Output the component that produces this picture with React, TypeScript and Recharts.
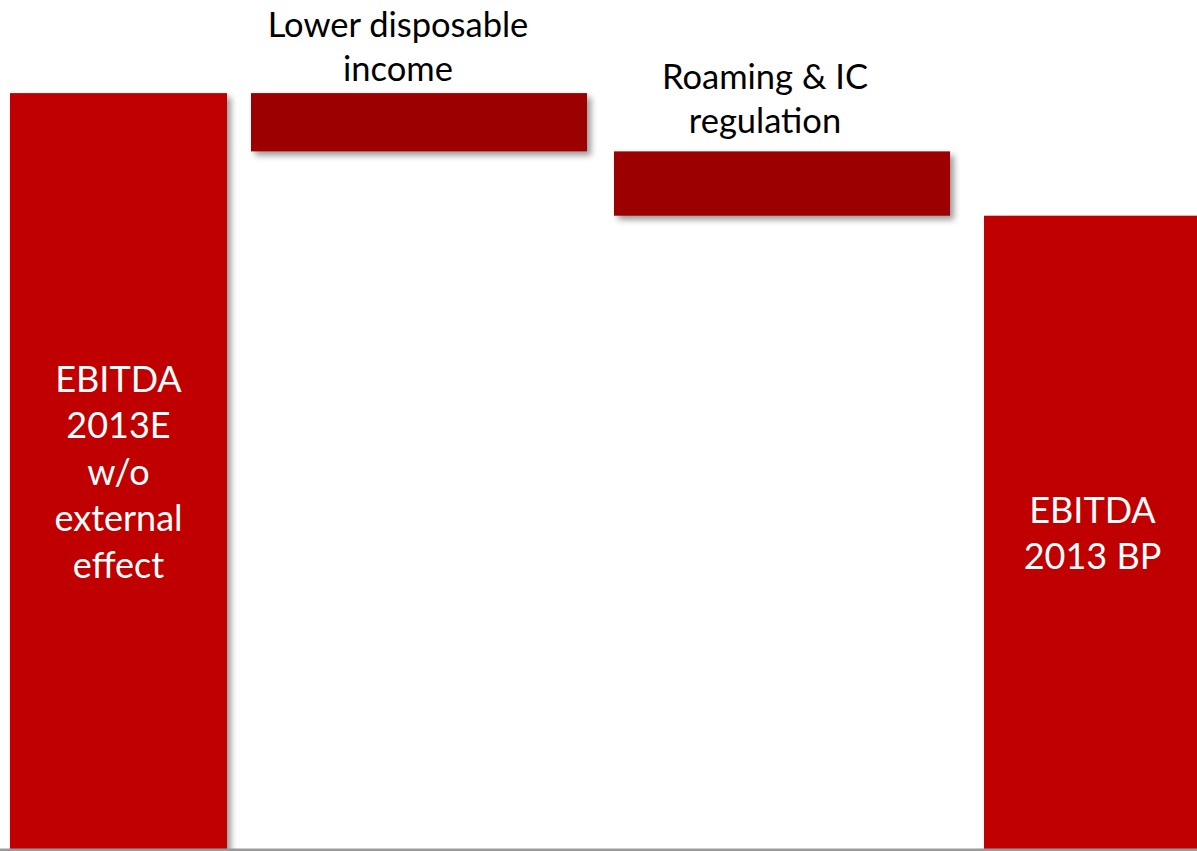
import { BarChart, Bar, XAxis, YAxis, Cell, LabelList, ReferenceLine } from "recharts";

// waterfall steps
const steps = [
  "EBITDA 2013E w/o external effect",
  "Lower disposable income",
  "Roaming & IC regulation",
  "EBITDA 2013 BP",
];
const stepLines = [
  ["EBITDA", "2013E", "w/o", "external", "effect"],
  ["Lower disposable", "income"],
  ["Roaming & IC", "regulation"],
  ["EBITDA", "2013 BP"],
];
const startValue = 100;
const effects = [-7.7, -8.5];
const endValue = 83.8;

// styling per step
const barWidths = [217, 336, 336, 217];
const barShifts = [7.5, -20, 15, -2.5];
const labelShifts = [0, -21, -17, 0];
const labelGaps = [0, 12, 18, 0];
const totalColor = "#C00000";
const effectColor = "#9C0000";

let running = startValue;
const chartData = steps.map((name, i) => {
  if (i === 0) return { name, range: [0, startValue], total: true };
  if (i === steps.length - 1) return { name, range: [0, endValue], total: true };
  const high = running;
  running = running + effects[i - 1];
  return { name, range: [running, high], total: false };
});

const WaterfallBar = (props: any) => {
  const { x, y, width, height, index, fill } = props;
  const w = barWidths[index];
  const cx = x + width / 2 + barShifts[index];
  return (
    <rect
      x={cx - w / 2}
      y={y}
      width={w}
      height={height}
      fill={fill}
      filter="url(#barShadow)"
    />
  );
};

const StepLabel = (props: any) => {
  const { x, y, width, height, index } = props;
  const lines = stepLines[index];
  const cx = x + width / 2 + barShifts[index] + labelShifts[index];
  if (chartData[index].total) {
    const fs = 36;
    const lh = 46.5;
    const mid = y + height / 2;
    return (
      <g>
        {lines.map((t, i) => (
          <text
            key={i}
            x={cx}
            y={mid + (i - (lines.length - 1) / 2) * lh + fs * 0.36}
            textAnchor="middle"
            fill="#fff"
            fontSize={fs}
            fontFamily="Lato, sans-serif"
          >
            {t}
          </text>
        ))}
      </g>
    );
  }
  const fs = 34.5;
  const lh = 44;
  const top = Math.min(y, y + height);
  return (
    <g>
      {lines.map((t, i) => (
        <text
          key={i}
          x={cx}
          y={top - labelGaps[index] - (lines.length - 1 - i) * lh}
          textAnchor="middle"
          fill="#000"
          fontSize={fs}
          fontFamily="Lato, sans-serif"
        >
          {t}
        </text>
      ))}
    </g>
  );
};

const App = () => {
  return (
    <div
      style={{
        position: "fixed",
        left: 0,
        top: 0,
        width: 1197,
        height: 851,
        overflow: "hidden",
        background: "#fff",
      }}
    >
      <svg width={0} height={0} style={{ position: "absolute" }}>
        <defs>
          <filter id="barShadow" x="-10%" y="-20%" width="130%" height="160%">
            <feDropShadow dx={4} dy={4} stdDeviation={3} floodColor="#000" floodOpacity={0.4} />
          </filter>
        </defs>
      </svg>
      <div style={{ position: "absolute", left: -53, top: 0 }}>
        <BarChart
          width={1312}
          height={851}
          data={chartData}
          margin={{ top: 0, right: 0, left: 0, bottom: 1 }}
          barCategoryGap={0}
        >
          <XAxis dataKey="name" hide />
          <YAxis hide domain={[0, 112.3]} />
          <ReferenceLine y={0} stroke="#9a9a9a" strokeWidth={3} />
          <Bar dataKey="range" shape={WaterfallBar} isAnimationActive={false}>
            {chartData.map((d, i) => (
              <Cell key={i} fill={d.total ? totalColor : effectColor} />
            ))}
            <LabelList dataKey="range" content={StepLabel} />
          </Bar>
        </BarChart>
      </div>
    </div>
  );
};

export default App;
